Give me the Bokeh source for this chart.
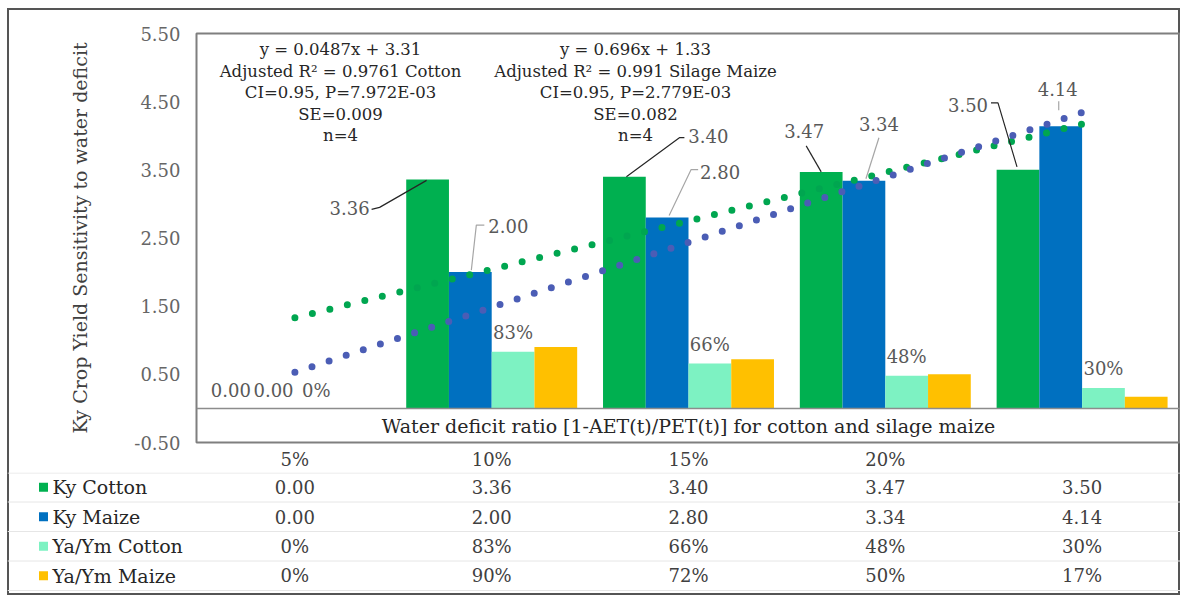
from bokeh.plotting import figure
from bokeh.models import Range1d, FixedTicker, NumeralTickFormatter, Span
from bokeh.layouts import column
from bokeh.embed import file_html
from bokeh.resources import INLINE
from bokeh.core.properties import value

# ---------------- data ----------------
categories = ["5%", "10%", "15%", "20%", ""]
ky_cotton = [0.00, 3.36, 3.40, 3.47, 3.50]
ky_maize = [0.00, 2.00, 2.80, 3.34, 4.14]
yaym_cotton = [0.00, 0.83, 0.66, 0.48, 0.30]
yaym_maize = [0.00, 0.90, 0.72, 0.50, 0.17]
series_names = ["Ky Cotton", "Ky Maize", "Ya/Ym Cotton", "Ya/Ym Maize"]
trend_cotton_ends = [1.33, 4.17]   # dotted trendline, first and last category
trend_maize_ends = [0.53, 4.34]
x_title = "Water deficit ratio [1-AET(t)/PET(t)] for cotton and silage maize"
y_title = "Ky Crop Yield Sensitivity to water deficit"
eq_cotton = ["y = 0.0487x + 3.31", "Adjusted R\u00b2 = 0.9761 Cotton",
             "CI=0.95, P=7.972E-03", "SE=0.009", "n=4"]
eq_maize = ["y = 0.696x + 1.33", "Adjusted R\u00b2 = 0.991 Silage Maize",
            "CI=0.95, P=2.779E-03", "SE=0.082", "n=4"]

# ---------------- layout / style ----------------
FONT = "DejaVu Serif"
OX, OY = 7, 8                    # page position of the chart
W = 1173
LEFT, TOP, BOTTOM = 189, 25, 30
FRAME_H = 409
H1 = TOP + FRAME_H + BOTTOM      # main chart incl. header row of the table
H2 = 123                         # table rows
PXX = (W - LEFT) / 5.0          # px per category
PXY = FRAME_H / 6.0             # px per value unit
FX0 = OX + LEFT                 # page x of frame left
Y0 = OY + TOP + 5.5 * PXY       # page y of value 0
BW = 43 / 198.0
OFFS = [-1.5 * BW, -0.5 * BW, 0.5 * BW, 1.5 * BW]
COLORS = ["#00B050", "#0070C0", "#7DF2C2", "#FFC000"]
TREND_COLORS = ["#00A650", "#4B5DB5"]
LBL = "#595959"
DARK = "#262626"
TABLE_TXT = "#404040"
EDGE = "#555555"

xs = [i + 0.5 for i in range(len(categories))]

p = figure(width=W, height=H1, x_range=Range1d(0, 5), y_range=Range1d(-0.5, 5.5),
           output_backend="svg", toolbar_location=None,
           min_border_left=LEFT, min_border_right=0, min_border_top=TOP,
           min_border_bottom=BOTTOM,
           styles={"box-shadow": "inset 2px 0 0 %s, inset -2px 0 0 %s, inset 0 2px 0 %s"
                   % (EDGE, EDGE, EDGE)})
try:
    p.frame_align = False
except Exception:
    pass
p.grid.visible = False
p.outline_line_color = "#7f7f7f"
p.outline_line_width = 2
p.border_fill_color = None
p.background_fill_color = None

# y axis
ya = p.yaxis[0]
ya.ticker = FixedTicker(ticks=[-0.5, 0.5, 1.5, 2.5, 3.5, 4.5, 5.5])
ya.formatter = NumeralTickFormatter(format="0.00")
ya.axis_line_color = None
ya.major_tick_line_color = None
ya.minor_tick_line_color = None
ya.major_tick_out = 0
ya.major_tick_in = 0
ya.major_label_text_font = FONT
ya.major_label_text_font_size = "18px"
ya.major_label_text_color = "#666666"
ya.major_label_standoff = 16
ya.axis_label = y_title
ya.axis_label_text_font = FONT
ya.axis_label_text_font_size = "19px"
ya.axis_label_text_font_style = "normal"
ya.axis_label_text_color = "#404040"
ya.axis_label_standoff = 40

# x axis = header row of the data table
xa = p.xaxis[0]
xa.ticker = FixedTicker(ticks=xs)
xa.major_label_overrides = {x: c for x, c in zip(xs, categories)}
xa.axis_line_color = None
xa.major_tick_line_color = None
xa.minor_tick_line_color = None
xa.major_tick_out = 0
xa.major_tick_in = 0
xa.major_label_text_font = FONT
xa.major_label_text_font_size = "18px"
xa.major_label_text_color = TABLE_TXT
xa.major_label_standoff = 6

series = [ky_cotton, ky_maize, yaym_cotton, yaym_maize]
for vals, off, col in zip(series, OFFS, COLORS):
    p.vbar(x=[x + off for x in xs], top=vals, bottom=0, width=BW,
           fill_color=col, line_color=None)

p.add_layout(Span(location=0, dimension="width", line_color="#8c8c8c", line_width=1.5))

# trendlines (dotted)
for ends, col in zip([trend_cotton_ends, trend_maize_ends], TREND_COLORS):
    p.line(x=[xs[0], xs[-1]], y=ends, line_color=col, line_width=7,
           line_dash="0 18", line_cap="round")

# data labels: offsets (px) relative to bar top centre
lab_cotton = [(0, -18), (-78, 29), (84, -41), (-17, -41), (-50, -65)]
lab_maize = [(0, -18), (38, -46), (53, -46), (15, -57), (-3, -37)]
lab_yc = [(0, -18), (0, -19), (0, -19), (0, -19), (0, -19)]
lead_cotton = [None, [(-56, 30), (-48, 28), (-1, 1)], [(60, -39), (55, -39), (2, 0)],
               [(-15, -26), (0, 0)], [(-27, -67), (-20, -67), (-1, -3)]]
lead_maize = [None, [(14, -47), (6, -47), (1, -2)], [(31, -48), (24, -48), (2, -2)],
              [(15, -43), (2, -2)], [(-2, -25), (-2, -16)]]


def add_labels(vals, off, offsets, fmt):
    p.text(x=[x + off for x in xs], y=vals, text=[fmt(v) for v in vals],
           x_offset=[o[0] for o in offsets], y_offset=[o[1] for o in offsets],
           text_font=value(FONT), text_font_size="18px", text_color=LBL,
           text_align="center", text_baseline="middle")


def add_leaders(vals, off, leads, col):
    lx, ly = [], []
    for x, v, ld in zip(xs, vals, leads):
        if ld is None:
            continue
        lx.append([x + off + d[0] / PXX for d in ld])
        ly.append([v - d[1] / PXY for d in ld])
    p.multi_line(xs=lx, ys=ly, line_color=col, line_width=1.2)


add_leaders(ky_cotton, OFFS[0], lead_cotton, "#262626")
add_leaders(ky_maize, OFFS[1], lead_maize, "#a6a6a6")
add_labels(ky_cotton, OFFS[0], lab_cotton, lambda v: "%.2f" % v)
add_labels(ky_maize, OFFS[1], lab_maize, lambda v: "%.2f" % v)
add_labels(yaym_cotton, OFFS[2], lab_yc, lambda v: "%d%%" % round(v * 100))

# regression annotations (page-pixel anchors converted to data space)
eq_px = [340, 635]
eq_py = [49, 70.5, 92, 113.5, 135]
for ex, lines in zip(eq_px, [eq_cotton, eq_maize]):
    p.text(x=[(ex - FX0) / PXX] * len(lines), y=[(Y0 - py) / PXY for py in eq_py],
           text=lines, text_font=value(FONT), text_font_size="16.5px",
           text_color=DARK, text_align="center", text_baseline="middle")

# horizontal axis title (inside the plot box, below zero)
p.text(x=[2.5], y=[-0.26], text=[x_title], text_font=value(FONT),
       text_font_size="19px", text_color=DARK, text_align="center",
       text_baseline="middle")

# ---------------- data table rows ----------------
t = figure(width=W, height=H2, x_range=Range1d(-LEFT / PXX, 5), y_range=Range1d(H2, 0),
           output_backend="svg", toolbar_location=None, x_axis_location=None,
           y_axis_location=None, min_border=0,
           styles={"box-shadow": "inset 2px 0 0 %s, inset -2px 0 0 %s, inset 0 -2px 0 %s"
                   % (EDGE, EDGE, EDGE)})
try:
    t.frame_align = False
except Exception:
    pass
t.grid.visible = False
t.outline_line_color = None
t.border_fill_color = None
t.background_fill_color = None

ROWH = 29.5
row_y = [ROWH * (i + 0.5) for i in range(4)]
sep_y = [0.5] + [ROWH * i for i in range(1, 5)]

t.multi_line(xs=[[-LEFT / PXX, 5]] * len(sep_y), ys=[[y, y] for y in sep_y],
             line_color="#e6e6e6", line_width=1)

fmts = [lambda v: "%.2f" % v, lambda v: "%.2f" % v,
        lambda v: "%d%%" % round(v * 100), lambda v: "%d%%" % round(v * 100)]
for ry, vals, f in zip(row_y, series, fmts):
    t.text(x=xs, y=[ry] * 5, text=[f(v) for v in vals], text_font=value(FONT),
           text_font_size="18px", text_color=TABLE_TXT, text_align="center",
           text_baseline="middle")

key_x = (43 - FX0) / PXX
name_x = (52 - FX0) / PXX
t.scatter(x=[key_x] * 4, y=row_y, marker="square", size=9, fill_color=COLORS,
          line_color=None)
t.text(x=[name_x] * 4, y=row_y, text=series_names, text_font=value(FONT),
       text_font_size="19px", text_color=DARK, text_align="left",
       text_baseline="middle")

layout = column(p, t, spacing=0, margin=(OY, 0, 0, OX),
                styles={"outline": "2px solid %s" % EDGE, "outline-offset": "-2px"})

open("out.html", "w").write(file_html(layout, INLINE))
